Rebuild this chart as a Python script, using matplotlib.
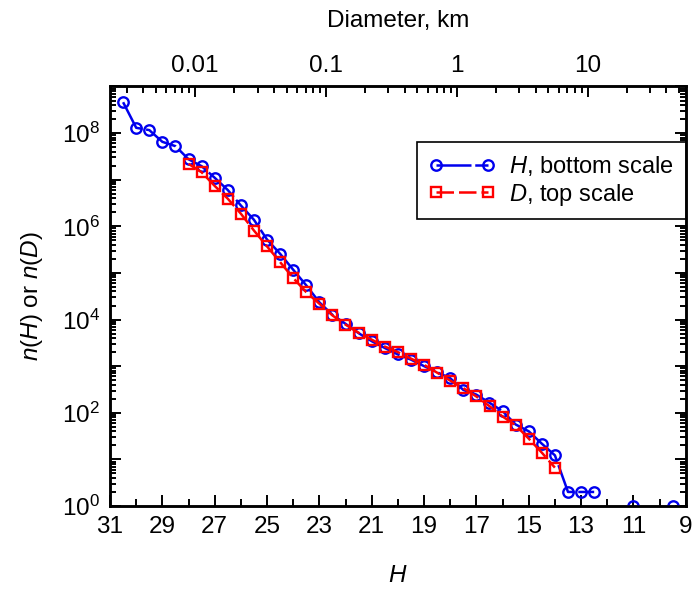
import matplotlib
matplotlib.use("Agg")
import matplotlib.pyplot as plt
import matplotlib.ticker as ticker
import numpy as np

plt.rcParams['font.family'] = ['Liberation Sans', 'DejaVu Sans']
plt.rcParams['mathtext.fontset'] = 'custom'
plt.rcParams['mathtext.rm'] = 'Liberation Sans'
plt.rcParams['mathtext.it'] = 'Liberation Sans:italic'

# distribucion por magnitud absoluta H (escala inferior)
H_mag = [30.5, 30.0, 29.5, 29.0, 28.5, 28.0, 27.5, 27.0, 26.5, 26.0,
         25.5, 25.0, 24.5, 24.0, 23.5, 23.0, 22.5, 22.0, 21.5, 21.0,
         20.5, 20.0, 19.5, 19.0, 18.5, 18.0, 17.5, 17.0, 16.5, 16.0,
         15.5, 15.0, 14.5, 14.0, 13.5, 13.0, 12.5, 12.0, 11.5, 11.0,
         10.5, 10.0, 9.5]
n_H = [4.6e8, 1.3e8, 1.16e8, 6.5e7, 5.25e7, 2.75e7, 1.95e7, 1.1e7, 6.0e6, 2.8e6,
       1.38e6, 5.2e5, 2.57e5, 1.17e5, 5.4e4, 2.34e4, 1.26e4, 8.1e3, 5.1e3, 3.43e3,
       2.45e3, 1.78e3, 1.38e3, 1.0e3, 741, 550, 309, 245, 164, 108,
       56, 40, 21.7, 12.2, 2, 2, 2, 0, 0, 1,
       0, 0, 1]

# distribucion por diametro D en km (escala superior)
D_km = [0.00891, 0.0112, 0.0141, 0.0178, 0.0224, 0.0282, 0.0355, 0.0447, 0.0562, 0.0708,
        0.0891, 0.112, 0.141, 0.178, 0.224, 0.282, 0.355, 0.447, 0.562, 0.708,
        0.891, 1.12, 1.41, 1.78, 2.24, 2.82, 3.55, 4.47, 5.62]
n_D = [2.19e7, 1.45e7, 7.4e6, 3.9e6, 1.86e6, 8.1e5, 3.7e5, 1.7e5, 7.8e4, 3.85e4,
       2.19e4, 1.23e4, 7.8e3, 5.2e3, 3.7e3, 2.63e3, 2.0e3, 1.45e3, 1.07e3, 724,
       490, 339, 224, 138, 83, 54, 27.8, 13.9, 6.65]

# H que corresponde a D = 1 km (relacion entre escala inferior y superior)
H_1km = 17.75
H_lim = (31, 9)


def D_a_H(d):
    return H_1km - 5 * np.log10(d)


def esDecada(v):
    return abs(np.log10(v) - round(np.log10(v))) < 1e-6


nH = np.array(n_H, dtype=float)
nH[nH <= 0] = np.nan

fig = plt.figure(figsize=(6.92, 5.9), dpi=100)
ax = fig.add_axes([0.159, 0.1424, 0.832, 0.711])

ax.plot(H_mag, nH, color='#0000ee', lw=1.8, linestyle=(0, (14, 1.5)),
        marker='o', ms=7.5, mfc='none', mec='#0000ee', mew=1.7,
        label='$H$, bottom scale', zorder=3)
ax.plot(D_a_H(np.array(D_km)), n_D, color='#ff0000', lw=1.8, linestyle=(0, (7, 2)),
        marker='s', ms=7.5, mfc='none', mec='#ff0000', mew=1.7,
        label='$D$, top scale', zorder=4)
ax.set_yscale('log')
ax.set_xlim(*H_lim)
ax.set_ylim(1, 1e9)

# ejes y ticks
ax.xaxis.set_major_locator(ticker.MultipleLocator(2, offset=1))
ax.xaxis.set_minor_locator(ticker.MultipleLocator(1))
ax.xaxis.set_major_formatter(ticker.FormatStrFormatter('%d'))

# todas las marcas del eje y como principales; solo se rotulan las decadas pares
marcasY = [s * 10.0 ** e for e in range(0, 9) for s in range(1, 10)] + [1e9]
ax.yaxis.set_major_locator(ticker.FixedLocator(marcasY))
ax.yaxis.set_minor_locator(ticker.NullLocator())


def etiquetaY(v, pos):
    if not esDecada(v):
        return ''
    e = int(round(np.log10(v)))
    return '$10^{%d}$' % e if e % 2 == 0 else ''


ax.yaxis.set_major_formatter(ticker.FuncFormatter(etiquetaY))

ax.tick_params(axis='both', which='both', direction='in', labelsize=17.5, top=False, right=True,
               width=1.4, pad=7)
ax.tick_params(axis='x', which='major', length=8)
ax.tick_params(axis='x', which='minor', length=5)
ax.tick_params(axis='y', which='major', length=8)
for s in ax.spines.values():
    s.set_linewidth(1.8)

ax.set_xlabel('$H$', fontsize=17.5, labelpad=20)
ax.set_ylabel('$n$($H$) or $n$($D$)', fontsize=17.5, labelpad=12)

leg = ax.legend(loc='upper right', bbox_to_anchor=(1.0, 0.867),
                borderaxespad=0, fontsize=17, fancybox=False, edgecolor='black',
                numpoints=2, handlelength=2.8, handletextpad=0.6, borderpad=0.5,
                labelspacing=0.15, framealpha=1)
leg.get_frame().set_linewidth(1.2)

# escala superior: diametro en km
ax2 = ax.twiny()
ax2.set_xscale('log')
ax2.set_xlim(10 ** ((H_1km - H_lim[0]) / 5), 10 ** ((H_1km - H_lim[1]) / 5))
ax2.xaxis.set_major_locator(ticker.LogLocator(base=10, numticks=100))
ax2.xaxis.set_minor_locator(ticker.LogLocator(base=10, subs=np.arange(2, 10), numticks=100))
ax2.xaxis.set_major_formatter(ticker.FuncFormatter(lambda v, p: '%g' % v))
ax2.xaxis.set_minor_formatter(ticker.NullFormatter())
ax2.tick_params(axis='x', which='both', direction='in', labelsize=17.5, width=1.4, pad=7)
ax2.tick_params(axis='x', which='major', length=8)
ax2.tick_params(axis='x', which='minor', length=5)
for s in ax2.spines.values():
    s.set_linewidth(1.8)
ax2.set_xlabel('Diameter, km', fontsize=17.5, labelpad=20)

# marcas cortas para las subdivisiones 2..9 del eje y
fig.canvas.draw()
for tick, loc in zip(ax.yaxis.get_major_ticks(), ax.yaxis.get_majorticklocs()):
    if not esDecada(loc):
        tick.tick1line.set_markersize(4)
        tick.tick2line.set_markersize(4)

plt.savefig('out.png', dpi=100)
